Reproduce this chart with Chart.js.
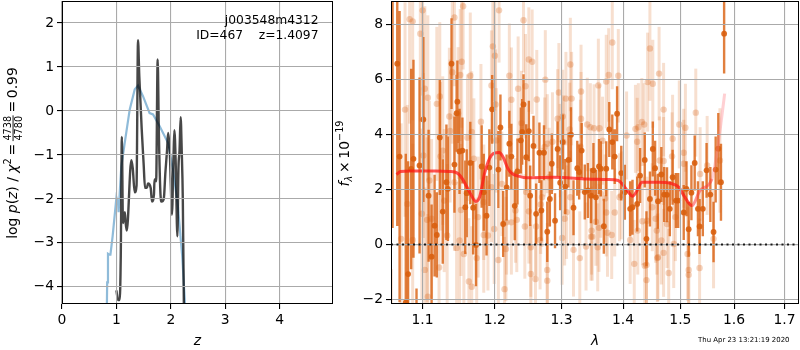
<!DOCTYPE html>
<html>
<head>
<meta charset="utf-8">
<script src="https://cdn.jsdelivr.net/npm/chart.js@4/dist/chart.umd.min.js"></script>
<style>
  html, body { margin: 0; padding: 0; background: #fff; }
  #page { position: relative; width: 800px; height: 350px; overflow: hidden; }
  #page div { position: absolute; top: 0; height: 350px; }
</style>
</head>
<body>
<div id="page">
  <div style="left:0;width:334px"><canvas id="chartPz"></canvas></div>
  <div style="left:334px;width:466px"><canvas id="chartSpec"></canvas></div>
</div>
<script>
// p(z) panel
const gridZ = [1.00, 1.03, 1.06, 1.08, 1.10, 1.12, 1.155, 1.17, 1.19, 1.274, 1.30, 1.336, 1.37, 1.397, 1.42, 1.465, 1.50, 1.526, 1.56, 1.58, 1.63, 1.654, 1.69, 1.70, 1.73, 1.758, 1.78, 1.81, 1.83, 1.87, 1.90, 1.93, 1.95, 1.98, 2.00, 2.02, 2.05, 2.065, 2.09, 2.12, 2.14, 2.16, 2.18, 2.20, 2.22, 2.24];
const logPz = [-4.08, -4.30, -4.30, -3.30, -0.59, -2.55, -2.30, -2.55, -2.72, -1.12, -1.30, -1.85, -1.70, 1.61, 0.80, -0.42, -1.20, -1.75, -1.75, -1.65, -1.75, -2.06, -1.90, -1.56, -1.60, 1.17, -0.50, -1.90, -2.06, -2.00, -1.40, -0.90, -0.50, -0.90, -1.70, -2.36, -1.00, -0.44, -1.20, -2.85, -1.30, -0.90, -0.14, -0.90, -2.00, -4.50];
const priorZ = [0.825, 0.83, 0.845, 0.87, 0.89, 0.93, 1.00, 1.03, 1.04, 1.09, 1.152, 1.244, 1.336, 1.397, 1.49, 1.61, 1.673, 1.795, 1.95, 2.04, 2.13, 2.21, 2.26];
const logPrior = [-4.4, -3.9, -3.25, -3.27, -3.27, -2.85, -1.97, -2.10, -2.30, -1.26, -0.73, 0.03, 0.49, 0.58, 0.33, -0.05, -0.08, -0.35, -0.73, -1.34, -2.17, -3.31, -4.39];
const zTicks = [0, 1, 2, 3, 4];
const pzTicks = [-4, -3, -2, -1, 0, 1, 2];

// spectrum panel, faint points
const lightWave = [
  1.100, 1.083, 1.087, 1.097, 1.155, 1.143, 1.206, 1.197, 1.200, 1.153,
  1.140, 1.151, 1.165, 1.195, 1.221, 1.242, 1.234, 1.103, 1.107, 1.123,
  1.119, 1.077, 1.148, 1.224, 1.136, 1.137, 1.180, 1.167, 1.161, 1.201,
  1.202, 1.101, 1.124, 1.127, 1.170, 1.109, 1.143, 1.099, 1.080, 1.106,
  1.112, 1.129, 1.152, 1.176, 1.210, 1.195, 1.184, 1.199, 1.133, 1.150,
  1.184, 1.190, 1.072, 1.087, 1.146, 1.156, 1.174, 1.205, 1.103, 1.122,
  1.163, 1.167, 1.214, 1.107, 1.230, 1.224, 1.217, 1.232, 1.216, 1.239,
  1.250, 1.255, 1.314, 1.382, 1.446, 1.462, 1.275, 1.245, 1.359, 1.372,
  1.376, 1.392, 1.442, 1.451, 1.331, 1.296, 1.307, 1.316, 1.262, 1.294,
  1.302, 1.331, 1.341, 1.352, 1.361, 1.313, 1.346, 1.432, 1.436, 1.426,
  1.421, 1.406, 1.424, 1.286, 1.278, 1.274, 1.298, 1.303, 1.366, 1.330,
  1.246, 1.268, 1.250, 1.244, 1.261, 1.270, 1.281, 1.267, 1.301, 1.314,
  1.305, 1.308, 1.355, 1.360, 1.348, 1.347, 1.349, 1.372, 1.386, 1.374,
  1.381, 1.363, 1.370, 1.394, 1.425, 1.433, 1.441, 1.339, 1.358, 1.319,
  1.329, 1.253, 1.260, 1.253, 1.278, 1.278, 1.419, 1.437, 1.440, 1.440,
  1.459, 1.412, 1.397, 1.470, 1.528, 1.498, 1.509, 1.486, 1.506, 1.485,
  1.463, 1.470, 1.506, 1.536, 1.450, 1.456, 1.458, 1.466, 1.488, 1.513,
  1.470, 1.460, 1.479, 1.515, 1.515, 1.535, 1.561, 1.549, 1.573, 1.491,
  1.476
];
const lightFlux = [
  8.52, 8.20, 8.12, 7.67, 8.67, 8.26, 8.52, 7.21, 6.87, 6.65,
  6.27, 6.17, 6.14, 5.79, 6.14, 8.16, 5.67, 5.67, 5.34, 5.39,
  5.12, 4.91, 4.78, 5.27, 4.66, 4.13, 4.47, 4.10, 3.89, 5.10,
  3.79, 3.24, 3.21, 3.42, 3.12, 2.33, 2.27, 1.12, 1.48, 0.90,
  0.94, 1.60, 1.26, 1.00, 2.21, 2.09, 1.54, 0.57, 0.33, 0.15,
  0.35, 0.33, 0.21, 0.17, -0.12, -0.34, -0.49, -0.56, -0.92, -0.83,
  -1.34, -1.53, -1.62, -1.89, 1.24, 0.81, 0.81, 0.90, -0.16, 4.42,
  6.73, 6.65, 6.55, 7.35, 7.13, 6.22, 6.00, 5.76, 5.79, 5.93,
  6.17, 6.14, 5.91, 5.85, 5.57, 5.53, 5.31, 5.31, 5.28, 4.58,
  4.66, 4.58, 4.37, 4.23, 4.23, 4.19, 4.27, 4.46, 4.37, 4.27,
  4.21, 3.97, 3.74, 3.74, 3.67, 3.55, 3.42, 3.73, 3.78, 3.57,
  1.91, 1.46, 1.21, 0.66, 0.66, 1.72, 2.45, 0.17, 0.24, 1.72,
  0.94, 1.18, 0.83, 0.61, 0.51, 0.29, 0.29, 1.17, 1.17, 0.43,
  0.35, 1.85, 1.68, 1.72, 0.51, 0.85, 0.87, -0.07, -0.10, -0.19,
  -0.49, -0.10, -1.25, -1.07, -0.92, -1.31, -0.70, -0.77, -0.74, -1.29,
  -0.49, 0.17, 1.79, 4.91, 4.80, 4.37, 4.25, 3.85, 3.34, 3.21,
  3.06, 3.04, 2.94, 2.57, 1.36, 0.94, 0.51, 0.15, 0.02, -0.34,
  -0.30, -0.46, -1.03, -0.92, -1.10, -0.85, 0.21, 2.88, 3.06, 1.00,
  0.75
];
const lightErr = [
  3.1, 3.8, 3.6, 3.2, 2.3, 2.5, 1.9, 2.0, 2.0, 2.4,
  2.6, 2.4, 2.3, 2.0, 1.9, 1.9, 1.9, 3.0, 3.0, 2.7,
  2.8, 3.9, 2.4, 1.9, 2.5, 2.6, 2.1, 2.2, 2.3, 2.0,
  1.9, 3.0, 2.7, 2.7, 2.2, 2.9, 2.5, 3.1, 3.6, 3.0,
  2.9, 2.6, 2.4, 2.2, 1.9, 2.0, 2.1, 2.0, 2.6, 2.4,
  2.1, 2.0, 4.2, 3.5, 2.4, 2.3, 2.2, 1.9, 3.0, 2.8,
  2.3, 2.2, 1.9, 3.0, 1.9, 1.9, 1.9, 1.9, 1.9, 1.9,
  1.9, 1.9, 1.7, 1.7, 1.9, 1.7, 1.8, 1.9, 1.7, 1.7,
  1.7, 1.7, 1.8, 1.6, 1.7, 1.8, 1.7, 1.7, 1.8, 1.8,
  1.7, 1.7, 1.7, 1.6, 1.6, 1.7, 1.6, 1.6, 1.5, 1.6,
  1.6, 1.6, 1.6, 1.8, 1.8, 1.8, 1.7, 1.7, 1.6, 1.7,
  1.9, 1.8, 1.9, 1.9, 1.8, 1.8, 1.8, 1.8, 1.7, 1.7,
  1.7, 1.7, 1.6, 1.6, 1.6, 1.6, 1.6, 1.6, 1.6, 1.6,
  1.6, 1.6, 1.6, 1.6, 1.6, 1.6, 1.6, 1.6, 1.6, 1.7,
  1.7, 1.8, 1.8, 1.8, 1.7, 1.7, 1.6, 1.6, 1.6, 1.6,
  1.6, 1.6, 1.6, 1.7, 1.6, 1.6, 1.6, 1.6, 1.6, 1.6,
  1.6, 1.6, 1.6, 1.7, 1.6, 1.6, 1.6, 1.6, 1.6, 1.7,
  1.6, 1.6, 1.6, 1.8, 1.7, 1.8, 1.8, 1.8, 1.9, 1.6,
  1.6
];

// spectrum panel, strong points
const darkWave = [
  1.059, 1.061, 1.067, 1.070, 1.078, 1.081, 1.085, 1.088, 1.092, 1.096,
  1.101, 1.108, 1.112, 1.116, 1.119, 1.123, 1.127, 1.132, 1.134, 1.139,
  1.143, 1.147, 1.146, 1.150, 1.154, 1.158, 1.160, 1.165, 1.169, 1.173,
  1.181, 1.188, 1.192, 1.196, 1.205, 1.208, 1.212, 1.217, 1.221, 1.224,
  1.229, 1.233, 1.238, 1.240, 1.242, 1.246, 1.250, 1.252, 1.257, 1.261,
  1.266, 1.269, 1.273, 1.278, 1.282, 1.285, 1.290, 1.294, 1.298, 1.302,
  1.306, 1.311, 1.315, 1.319, 1.325, 1.328, 1.332, 1.337, 1.342, 1.347,
  1.351, 1.360, 1.363, 1.368, 1.372, 1.377, 1.382, 1.386, 1.390, 1.412,
  1.416, 1.424, 1.429, 1.437, 1.440, 1.446, 1.451, 1.455, 1.460, 1.466,
  1.471, 1.476, 1.481, 1.486, 1.492, 1.496, 1.506, 1.511, 1.515, 1.520,
  1.526, 1.532, 1.535, 1.541, 1.548, 1.555, 1.561, 1.565, 1.570, 1.575,
  1.581, 1.355, 1.397, 1.403, 1.184
];
const darkFlux = [
  -2.50, 9.00, 6.58, 3.20, -2.10, -1.07, 2.75, 3.12, -2.50, 2.88,
  4.55, 1.78, -0.44, 0.69, 0.35, 3.90, 1.20, 2.27, 2.03, 6.58,
  2.91, 5.20, 4.78, 3.39, 3.42, 1.36, 1.87, 2.97, 1.34, -0.01,
  2.84, 1.05, 2.80, 4.92, 2.73, 4.26, 0.75, 2.08, 3.67, 3.20,
  1.41, 2.66, 3.79, 4.10, 5.10, 3.18, 4.13, 1.78, 3.59, 1.12,
  3.34, 1.24, 3.34, 0.47, 1.66, 2.94, 0.87, 3.48, 2.25, 3.73,
  2.11, 3.08, 4.00, 1.34, 2.78, 2.64, 3.42, 1.91, 1.97, 1.78,
  2.70, 2.84, 2.76, 0.67, 2.76, 4.19, 3.73, 3.20, 4.76, 1.30,
  1.36, 1.48, 2.51, 3.08, 0.21, 1.66, 3.48, 2.78, 1.58, 2.55,
  1.82, 1.81, 1.30, 2.45, 1.60, 1.60, 1.17, 2.03, 0.56, 1.89,
  2.97, 1.30, 0.66, 1.30, 2.70, 1.82, 0.46, 2.73, 3.49, 2.27,
  7.67, 1.72, 2.60, 1.90, 1.90
];
const darkErr = [
  1.6, 8.4, 5.9, 5.3, 5.4, 4.1, 3.65, 3.6, 0.9, 3.2,
  3.0, 2.4, 1.9, 1.85, 1.55, 2.1, 1.9, 2.1, 1.9, 1.65,
  1.75, 1.5, 1.4, 1.55, 1.2, 1.7, 1.6, 1.5, 1.7, 1.5,
  1.5, 1.45, 1.4, 1.25, 1.4, 1.2, 1.2, 1.2, 1.2, 1.2,
  1.25, 1.2, 1.2, 1.2, 1.1, 1.2, 1.1, 1.1, 1.1, 1.1,
  1.1, 1.1, 1.0, 1.1, 1.0, 1.1, 1.0, 1.0, 1.0, 1.0,
  1.0, 1.0, 1.0, 1.0, 1.0, 1.0, 1.0, 1.0, 1.0, 1.0,
  1.0, 1.0, 1.0, 1.0, 1.0, 1.0, 1.0, 1.0, 1.0, 1.0,
  1.0, 1.0, 1.0, 1.0, 1.0, 1.0, 1.0, 1.0, 1.0, 1.0,
  1.0, 1.0, 1.0, 1.0, 1.0, 1.0, 1.0, 1.0, 1.0, 1.0,
  1.0, 1.0, 1.0, 1.0, 1.0, 1.0, 1.1, 1.2, 1.3, 1.4,
  1.45, 1.0, 1.0, 1.0, 1.4
];

// continuum model
const modelWave = [1.066, 1.071, 1.085, 1.117, 1.136, 1.147, 1.154, 1.164, 1.173, 1.178, 1.185, 1.192, 1.199, 1.206, 1.212, 1.219, 1.226, 1.236, 1.246, 1.288, 1.341, 1.373, 1.392, 1.400, 1.409, 1.416, 1.424, 1.432, 1.462, 1.482, 1.497, 1.506, 1.521, 1.536, 1.558, 1.567, 1.574, 1.582];
const modelFlux = [2.55, 2.66, 2.68, 2.68, 2.66, 2.60, 2.39, 1.91, 1.57, 1.72, 2.57, 3.12, 3.33, 3.35, 3.18, 2.76, 2.57, 2.48, 2.43, 2.45, 2.39, 2.37, 2.33, 2.17, 1.91, 1.76, 1.97, 2.27, 2.27, 2.23, 2.09, 1.79, 1.42, 1.97, 2.39, 3.30, 4.27, 5.49];
const waveTicks = [1.1, 1.2, 1.3, 1.4, 1.5, 1.6, 1.7];
const fluxTicks = [-2, 0, 2, 4, 6, 8];

const fontFamily = "'DejaVu Sans'";
const gridColor = "#aaaaaa";
const orange = "217, 95, 14";

const minusLabel = v => String(v).replace("-", "\u2212");
const toPoints = (xs, ys) => xs.map((x, i) => ({ x: x, y: ys[i] }));

// scale that keeps the matplotlib axes box and ticks
const axisOpts = (extra, ticks, fitSize, labelFn) => Object.assign({
    afterBuildTicks: s => { s.ticks = ticks.map(v => ({ value: v })); },
    afterFit: s => {
        if (s.isHorizontal()) s.height = fitSize; else s.width = fitSize;
        s.paddingTop = s.paddingBottom = s.paddingLeft = s.paddingRight = 0;
    },
    border: { display: false },
    grid: { z: 1, color: gridColor, lineWidth: 1.1, tickColor: "#000", tickLength: 5 },
    ticks: {
        color: "#000",
        padding: 3,
        autoSkip: false,
        maxRotation: 0,
        font: { family: fontFamily, size: 13.9 },
        callback: labelFn
    }
}, extra);

const xTitle = (text, pad) => ({
    display: true,
    text: text,
    color: "#000",
    padding: { top: 0, bottom: pad },
    font: { family: fontFamily, size: 13.9, style: "italic" }
});

// all four spines
const boxPlugin = {
    id: "box",
    afterDraw(chart) {
        const a = chart.chartArea, c = chart.ctx;
        c.save();
        c.strokeStyle = "#000";
        c.lineWidth = 1;
        c.strokeRect(Math.round(a.left) + 0.5, Math.round(a.top) + 0.5, Math.round(a.right - a.left) - 1, Math.round(a.bottom - a.top) - 1);
        c.restore();
    }
};

// rotated y label built from text runs (italic, scripts, one fraction)
function drawRotated(c, cx, cy, runs) {
    const size = 13.9;
    const fontFor = r => (r.italic ? "italic " : "") + (size * (r.scale || 1)) + "px " + fontFamily;
    const widthOf = r => {
        if (r.frac) {
            c.font = (size * 0.7) + "px " + fontFamily;
            return Math.max(c.measureText(r.frac[0]).width, c.measureText(r.frac[1]).width) + 1;
        }
        c.font = fontFor(r);
        return c.measureText(r.text).width;
    };
    const total = runs.reduce((w, r) => w + widthOf(r), 0);
    c.save();
    c.translate(cx, cy);
    c.rotate(-Math.PI / 2);
    c.fillStyle = "#000";
    c.textBaseline = "alphabetic";
    let x = -total / 2;
    runs.forEach(r => {
        const w = widthOf(r);
        if (r.frac) {
            c.font = (size * 0.7) + "px " + fontFamily;
            c.textAlign = "center";
            c.fillText(r.frac[0], x + w / 2, -6.5);
            c.fillText(r.frac[1], x + w / 2, 4.5);
            c.fillRect(x, -4.4, w, 0.9);
            c.textAlign = "left";
        } else {
            c.font = fontFor(r);
            c.textAlign = "left";
            c.fillText(r.text, x, -(r.rise || 0));
        }
        x += w;
    });
    c.restore();
}

const pzLabelPlugin = {
    id: "pzLabel",
    afterDraw(chart) {
        const c = chart.ctx;
        drawRotated(c, 17, 153, [
            { text: "log " }, { text: "p", italic: true }, { text: "(" }, { text: "z", italic: true },
            { text: ") / " }, { text: "\u03c7", italic: true }, { text: "2", scale: 0.7, rise: 6 },
            { text: "\u2009=\u2009" }, { frac: ["4738", "4780"] }, { text: "\u2009=\u20090.99" }
        ]);
        c.save();
        c.fillStyle = "#000";
        c.font = "12.3px " + fontFamily;
        c.textAlign = "right";
        c.textBaseline = "alphabetic";
        c.fillText("j003548m4312", 318.5, 24);
        c.fillText("ID=467    z=1.4097", 318.5, 39);
        c.restore();
    }
};

const specLabelPlugin = {
    id: "specLabel",
    afterDraw(chart) {
        const c = chart.ctx;
        drawRotated(c, 15, 153.5, [
            { text: "f", italic: true }, { text: "\u03bb", italic: true, scale: 0.7, rise: -3 },
            { text: "\u2009\u00d7\u200910" }, { text: "\u221219", scale: 0.7, rise: 6 }
        ]);
        c.save();
        c.fillStyle = "#000";
        c.font = "6.95px " + fontFamily;
        c.textAlign = "left";
        c.textBaseline = "alphabetic";
        c.fillText("Thu Apr 23 13:21:19 2020", 364, 342);
        c.restore();
    }
};

new Chart(document.getElementById("chartPz"), {
    type: "scatter",
    data: {
        datasets: [
            {
                data: toPoints(gridZ, logPz),
                showLine: true,
                cubicInterpolationMode: "monotone",
                borderColor: "rgba(0, 0, 0, 0.72)",
                borderWidth: 2.4,
                pointRadius: 0
            },
            {
                data: toPoints(priorZ, logPrior),
                showLine: true,
                borderColor: "rgba(31, 119, 180, 0.5)",
                borderWidth: 2.2,
                pointRadius: 0
            }
        ]
    },
    options: {
        responsive: true,
        maintainAspectRatio: false,
        animation: false,
        layout: { autoPadding: false, padding: { top: 1, right: 1, left: 0, bottom: 0 } },
        plugins: { legend: { display: false }, tooltip: { enabled: false } },
        scales: {
            x: axisOpts({ type: "linear", min: 0, max: 4.98, title: xTitle("z", 0) }, zTicks, 46, v => String(v)),
            y: axisOpts({ type: "linear", min: -4.39, max: 2.5 }, pzTicks, 62, minusLabel)
        }
    },
    plugins: [boxPlugin, pzLabelPlugin]
});

// one line per faint error bar so their alpha stacks like in the original
const lightBars = lightWave.map((w, i) => ({
    data: [{ x: w, y: lightFlux[i] - lightErr[i] }, { x: w, y: lightFlux[i] + lightErr[i] }],
    showLine: true,
    borderColor: "rgba(" + orange + ", 0.2)",
    borderWidth: 3,
    pointRadius: 0
}));

const darkBarPoints = [];
darkWave.forEach((w, i) => {
    darkBarPoints.push({ x: w, y: darkFlux[i] - darkErr[i] }, { x: w, y: darkFlux[i] + darkErr[i] }, { x: w, y: NaN });
});

// the grid layer sits over the datasets, so the zero line is drawn as data
// underneath the dotted one instead
const fluxAxis = axisOpts({ type: "linear", min: -2.16, max: 8.86 }, fluxTicks, 57, minusLabel);
fluxAxis.grid.color = ctx => ctx.tick && ctx.tick.value === 0 ? "rgba(0, 0, 0, 0)" : gridColor;

new Chart(document.getElementById("chartSpec"), {
    type: "scatter",
    data: {
        datasets: [
            {
                data: [{ x: 1.059, y: 0 }, { x: 1.73, y: 0 }],
                showLine: true,
                borderColor: "rgba(0, 0, 0, 0.85)",
                borderWidth: 2,
                borderDash: [2, 3.5],
                pointRadius: 0
            },
            {
                data: [{ x: 1.059, y: 0 }, { x: 1.73, y: 0 }],
                showLine: true,
                borderColor: gridColor,
                borderWidth: 1.1,
                pointRadius: 0
            },
            {
                data: toPoints(modelWave, modelFlux),
                showLine: true,
                cubicInterpolationMode: "monotone",
                borderColor: "rgba(255, 20, 20, 0.72)",
                borderWidth: 3,
                pointRadius: 0,
                segment: {
                    borderColor: ctx => ctx.p1.parsed.x > 1.558 ? "rgba(255, 120, 130, 0.35)" : (ctx.p1.parsed.x > 1.53 ? "rgba(255, 60, 60, 0.55)" : undefined)
                }
            },
            {
                data: toPoints(darkWave, darkFlux),
                backgroundColor: "rgba(" + orange + ", 0.9)",
                borderWidth: 0,
                pointRadius: 2.9
            },
            {
                data: darkBarPoints,
                showLine: true,
                spanGaps: false,
                borderColor: "rgba(" + orange + ", 0.8)",
                borderWidth: 2.4,
                pointRadius: 0
            },
            {
                data: toPoints(lightWave, lightFlux),
                backgroundColor: "rgba(" + orange + ", 0.28)",
                borderWidth: 0,
                pointRadius: 3.2
            },
            ...lightBars
        ]
    },
    options: {
        responsive: true,
        maintainAspectRatio: false,
        animation: false,
        layout: { autoPadding: false, padding: { top: 1, right: 1, left: 0, bottom: 0 } },
        plugins: { legend: { display: false }, tooltip: { enabled: false } },
        scales: {
            x: axisOpts({ type: "logarithmic", min: 1.059, max: 1.73, title: xTitle("\u03bb", 0) }, waveTicks, 46, v => Number(v).toFixed(1)),
            y: fluxAxis
        }
    },
    plugins: [boxPlugin, specLabelPlugin]
});
</script>
</body>
</html>
